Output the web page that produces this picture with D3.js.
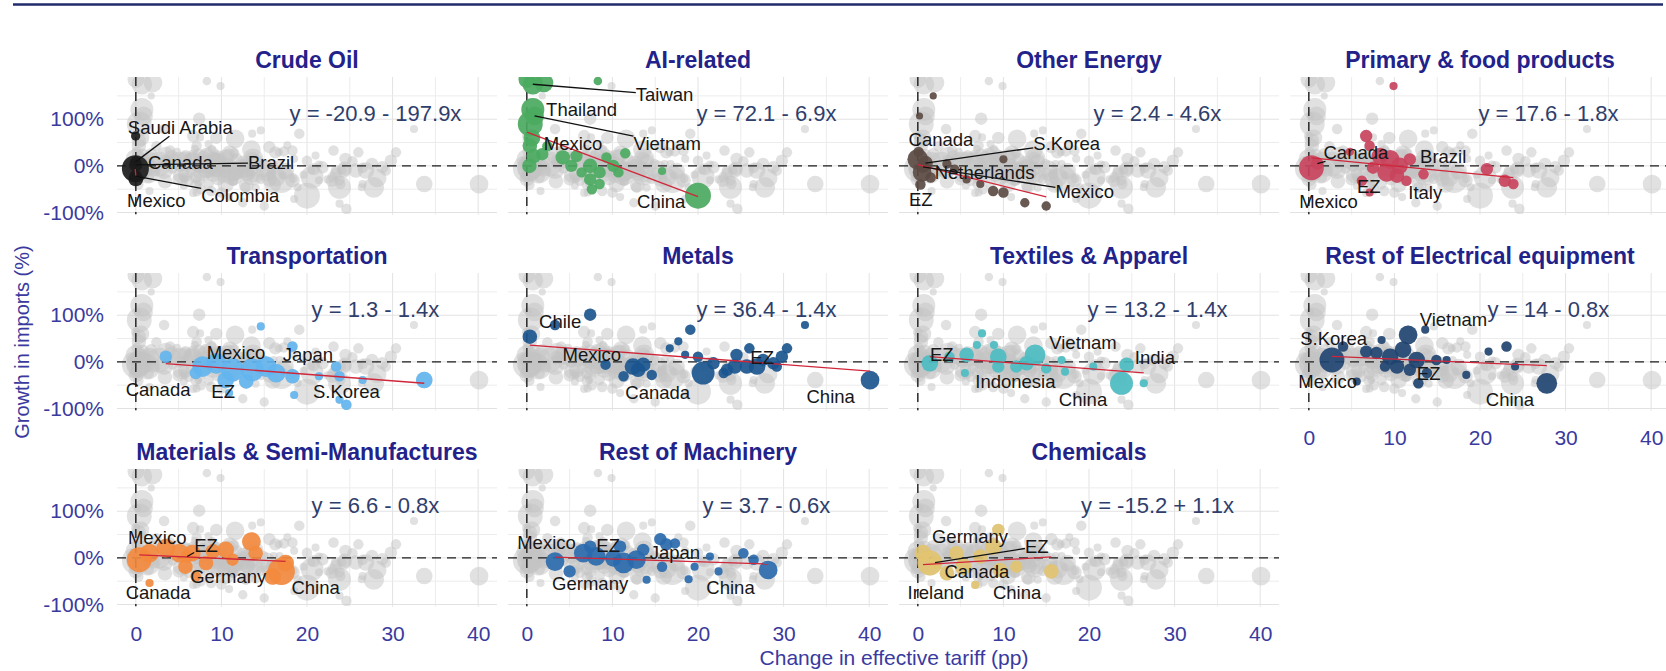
<!DOCTYPE html>
<html>
<head>
<meta charset="utf-8">
<script src="https://cdn.jsdelivr.net/npm/d3@7"></script>
<style>
  html, body { margin: 0; padding: 0; background: #ffffff; }
  svg text { font-family: "Liberation Sans", Arial, sans-serif; }
</style>
</head>
<body>
<svg id="chart" width="1666" height="671"></svg>
<script>
// Facets, in reading order
const sectors = ["Crude Oil", "AI-related", "Other Energy", "Primary & food products",
  "Transportation", "Metals", "Textiles & Apparel", "Rest of Electrical equipment",
  "Materials & Semi-Manufactures", "Rest of Machinery", "Chemicals"];
const sectorColors = ["#1b1b1b", "#4aab5f", "#5c4a44", "#c9435c", "#62b5f0", "#1b5590",
  "#4abcc3", "#1e426f", "#f48a3c", "#2a6aad", "#e2c470"];

// Fitted lines: y = intercept + slope * x
const intercepts = [-20.9, 72.1, 2.4, 17.6, 1.3, 36.4, 13.2, 14, 6.6, 3.7, -15.2];
const slopes = [-197.9, -6.9, -4.6, -1.8, -1.4, -1.4, -1.4, -0.8, -0.8, -0.6, 1.1];

const xTicks = [0, 10, 20, 30, 40];
const yTicks = [-100, 0, 100];

// Points: [change in effective tariff (pp), growth in imports (%), import weight]
const crudeOil = [
  [-0.02, 64, 12], [-0.05, -6, 100], [0.0, -28, 30], [-0.01, 2, 24],
  [-0.03, -22, 20], [-0.07, 8, 14], [0.0, 12, 10]
];
const aiRelated = [
  [0.7, 175, 59], [2.0, 178, 48], [0.0, 185, 38], [8.3, 182, 10], [0.7, 121, 72],
  [0.9, 107, 48], [0.4, 90, 85], [0.6, 60, 38], [0.35, 43, 29], [0.8, 21, 29],
  [0.3, 0, 29], [1.8, 25, 21], [2.4, 42, 15], [4.2, 18, 29], [5.2, 0, 21],
  [5.8, 21, 21], [6.4, -14, 15], [7.4, 0, 29], [7.4, -29, 21], [7.6, -50, 15],
  [8.5, -14, 21], [8.5, -39, 15], [9.3, 18, 15], [10.1, 0, 21], [10.7, -14, 15],
  [11.5, 27, 15], [15.8, -11, 9], [20.0, -64, 92]
];
const otherEnergy = [
  [1.8, 150, 7], [0.2, 107, 7], [0.0, 14, 59], [0.5, -14, 48], [0.9, 6, 29],
  [0.6, -2, 21], [0.3, -40, 15], [0.1, 30, 15], [1.5, -25, 15], [3.4, 4, 12],
  [4.3, -7, 12], [5.7, -29, 9], [7.3, -39, 9], [8.8, -54, 15], [10.0, -57, 15],
  [10.0, 14, 9], [12.5, -79, 12], [15.0, -86, 12]
];
const primaryFood = [
  [0.3, -4, 85], [1.0, 5, 21], [9.9, 171, 9], [6.7, 64, 21], [7.1, 43, 15],
  [4.8, 30, 9], [8.3, 21, 38], [9.5, 14, 48], [10.6, 0, 38], [9.1, -14, 48],
  [10.3, -21, 29], [11.8, 14, 21], [7.5, -4, 21], [6.2, -32, 15], [7.1, -57, 9],
  [11.4, -32, 15], [13.4, -18, 15], [20.8, -7, 21], [22.9, -32, 21], [23.9, -39, 15]
];
const transportation = [
  [3.5, 11, 21], [14.6, 76, 9], [7.0, -24, 21], [7.8, -10, 59], [9.4, -3, 59],
  [11.3, -17, 72], [13.6, -17, 72], [15.2, -10, 59], [16.4, -24, 48], [10.5, -39, 38],
  [12.9, -42, 29], [18.3, -31, 29], [18.3, 33, 15], [10.9, -67, 9], [18.5, -71, 9],
  [21.4, -31, 9], [23.4, -10, 15], [23.8, -31, 15], [23.8, -81, 9], [24.6, -92, 15],
  [26.5, -39, 9], [33.7, -39, 38]
];
const metals = [
  [0.35, 54, 29], [3.3, 79, 15], [7.4, 101, 21], [9.2, -6, 15], [11.3, -31, 15],
  [12.4, -10, 38], [13.0, -17, 29], [13.6, -6, 29], [14.6, -28, 15], [16.7, 29, 9],
  [17.7, 44, 9], [19.1, 69, 15], [18.5, 15, 9], [20.0, 11, 15], [20.6, -24, 72],
  [21.8, -3, 21], [23.0, -24, 15], [23.4, -17, 21], [24.3, -10, 29], [24.5, 15, 21],
  [25.7, -10, 29], [26.0, 29, 15], [26.9, -10, 38], [27.6, 4, 21], [28.8, -3, 21],
  [29.2, -10, 15], [29.8, 11, 21], [30.4, 29, 15], [32.5, 79, 9], [40.1, -39, 48]
];
const textiles = [
  [1.4, -3, 38], [3.7, 11, 15], [5.5, -24, 9], [5.7, 15, 29], [6.9, 36, 9],
  [7.5, 61, 9], [8.9, 36, 9], [9.4, 11, 38], [9.4, -10, 21], [11.5, -10, 21],
  [12.7, -3, 29], [13.7, 15, 59], [15.0, -14, 15], [16.8, 4, 9], [17.2, -21, 9],
  [20.5, -10, 9], [23.8, -46, 72], [24.4, -6, 29], [26.4, -46, 9]
];
const electrical = [
  [2.7, 4, 85], [4.0, 33, 15], [5.6, -42, 9], [6.7, 22, 21], [7.9, 19, 21],
  [8.5, 47, 9], [8.9, -10, 15], [9.5, 11, 38], [10.3, -10, 29], [11.0, 26, 38],
  [11.6, 58, 48], [11.8, -17, 21], [12.6, 4, 38], [12.8, -46, 15], [13.6, 69, 9],
  [13.8, -24, 15], [14.9, 4, 15], [16.1, 4, 9], [18.4, -28, 9], [21.0, 22, 9],
  [23.1, 33, 15], [24.1, -10, 9], [27.8, -46, 59]
];
const materials = [
  [0.4, -4, 85], [1.6, 10, 48], [1.6, -54, 9], [3.5, 21, 48], [5.1, 10, 48],
  [5.8, -19, 29], [6.0, 3, 21], [6.6, 10, 38], [7.0, -40, 15], [8.2, -11, 29],
  [9.0, 14, 29], [10.5, 17, 38], [11.3, -4, 21], [13.5, 35, 48], [14.0, 10, 29],
  [16.0, -40, 38], [17.0, -29, 100], [17.5, -11, 38]
];
const machinery = [
  [3.3, -8, 48], [5.0, -29, 21], [6.6, 10, 48], [7.4, 24, 21], [8.1, 3, 48],
  [10.1, -1, 38], [10.9, 24, 21], [11.3, -11, 59], [12.8, -4, 48], [13.6, 17, 21],
  [14.0, -47, 9], [15.6, 40, 21], [15.8, -19, 15], [16.3, 29, 21], [17.3, 31, 15],
  [18.9, -46, 9], [19.6, -19, 9], [21.4, 3, 9], [22.4, -29, 9], [25.3, 10, 15],
  [26.5, -4, 15], [28.2, -26, 48]
];
const chemicals = [
  [0.6, 10, 38], [1.4, -11, 85], [2.0, -10, 21], [3.4, -33, 29], [4.5, 10, 29],
  [5.3, -19, 38], [6.7, -58, 9], [7.3, 3, 29], [8.8, 24, 38], [9.4, 60, 21],
  [9.6, -26, 29], [11.5, -19, 21], [15.6, -29, 29]
];

// Country labels: [name, label x, label y, (point x, point y) for a leader line]
const crudeLabels = [["Saudi Arabia", 5.2, 81.5, -0.07, 8], ["Canada", 5.2, 6.4],
  ["Brazil", 15.8, 6.4, -0.01, 2], ["Colombia", 12.2, -64, -0.03, -22], ["Mexico", 2.4, -75]];
const aiLabels = [["Taiwan", 16.1, 152, 0.7, 175], ["Thailand", 6.4, 120], ["Mexico", 5.4, 49],
  ["Vietnam", 16.4, 49, 0.9, 107], ["China", 15.7, -77]];
const otherEnergyLabels = [["Canada", 2.7, 56], ["S.Korea", 17.4, 49, 0.9, 6],
  ["Netherlands", 7.8, -15], ["Mexico", 19.5, -56, 0.6, -2], ["EZ", 0.35, -73]];
const primaryLabels = [["Canada", 5.5, 28, 1.0, 5], ["Brazil", 15.7, 19], ["EZ", 7, -45],
  ["Italy", 13.6, -58], ["Mexico", 2.3, -77]];
const transportLabels = [["Mexico", 11.7, 19], ["Japan", 20.1, 15], ["Canada", 2.6, -60],
  ["EZ", 10.2, -64], ["S.Korea", 24.6, -64]];
const metalsLabels = [["Chile", 3.9, 86], ["Mexico", 7.6, 15], ["Canada", 15.3, -66],
  ["EZ", 27.5, 9], ["China", 35.5, -75]];
const textilesLabels = [["EZ", 2.8, 15], ["Vietnam", 19.3, 41], ["India", 27.7, 9],
  ["Indonesia", 11.4, -43], ["China", 19.3, -81]];
const electricalLabels = [["Vietnam", 16.9, 90], ["S.Korea", 2.9, 51], ["Mexico", 2.2, -43],
  ["EZ", 14, -24], ["China", 23.5, -81]];
const materialsLabels = [["Mexico", 2.5, 43], ["EZ", 8.2, 26, 6.0, 3], ["Germany", 10.8, -41],
  ["Canada", 2.6, -75], ["China", 21, -64]];
const machineryLabels = [["Mexico", 2.3, 32], ["EZ", 9.5, 26], ["Japan", 17.3, 11],
  ["Germany", 7.4, -54], ["China", 23.8, -64]];
const chemicalsLabels = [["Germany", 6.1, 45], ["EZ", 13.9, 24, 2.0, -10], ["Canada", 6.9, -30],
  ["Ireland", 2.1, -75], ["China", 11.6, -75]];

const sectorPoints = [crudeOil, aiRelated, otherEnergy, primaryFood, transportation, metals,
  textiles, electrical, materials, machinery, chemicals];
const sectorLabels = [crudeLabels, aiLabels, otherEnergyLabels, primaryLabels, transportLabels,
  metalsLabels, textilesLabels, electricalLabels, materialsLabels, machineryLabels, chemicalsLabels];

// ---------- layout ----------
const svg = d3.select("#chart");
const panelW = 380, panelH = 137.6;
const colStep = 391, rowStep = 196;
const left0 = 117, top0 = 77;
const nCols = 4;

const x = d3.scaleLinear().domain([-2.2, 42.2]).range([0, panelW]);
const y = d3.scaleLinear().domain([-104.5, 190.5]).range([panelH, 0]);
const r = d3.scaleSqrt().domain([0, 100]).range([0, 13.5]);

const titleColor = "#22228a";
const axisColor = "#3a3a9e";
const allPoints = sectorPoints.flat();

// rule across the top
svg.append("line")
  .attr("x1", 13).attr("x2", 1663).attr("y1", 4.5).attr("y2", 4.5)
  .attr("stroke", "#1f2b6c").attr("stroke-width", 2.5);

const defs = svg.append("defs");
defs.append("clipPath").attr("id", "panel-clip")
  .append("rect").attr("x", 0).attr("y", 0).attr("width", panelW).attr("height", panelH);

sectors.forEach((name, i) => {
  const col = i % nCols, row = Math.floor(i / nCols);
  const g = svg.append("g")
    .attr("transform", `translate(${left0 + col * colStep},${top0 + row * rowStep})`);

  // grid
  const grid = g.append("g");
  grid.selectAll("line.v").data(d3.range(0, 41, 5)).join("line")
    .attr("x1", d => x(d)).attr("x2", d => x(d)).attr("y1", 0).attr("y2", panelH)
    .attr("stroke", d => d % 10 === 0 ? "#e2e2e2" : "#ececec").attr("stroke-width", 1);
  grid.selectAll("line.h").data(d3.range(-100, 151, 50)).join("line")
    .attr("x1", 0).attr("x2", panelW).attr("y1", d => y(d)).attr("y2", d => y(d))
    .attr("stroke", d => d % 100 === 0 ? "#e2e2e2" : "#ececec").attr("stroke-width", 1);

  const plot = g.append("g").attr("clip-path", "url(#panel-clip)");

  // every sector's points, in grey
  plot.append("g").selectAll("circle").data(allPoints).join("circle")
    .attr("cx", d => x(d[0])).attr("cy", d => y(d[1])).attr("r", d => r(d[2]))
    .attr("fill", "#c4c4c4").attr("fill-opacity", 0.5);

  // zero reference lines
  plot.append("line")
    .attr("x1", x(0)).attr("x2", x(0)).attr("y1", 0).attr("y2", panelH)
    .attr("stroke", "#1c1c1c").attr("stroke-width", 1.4).attr("stroke-dasharray", "9,6");
  plot.append("line")
    .attr("x1", 0).attr("x2", panelW).attr("y1", y(0)).attr("y2", y(0))
    .attr("stroke", "#1c1c1c").attr("stroke-width", 1.4).attr("stroke-dasharray", "9,6");

  // this sector's points
  const pts = sectorPoints[i];
  plot.append("g").selectAll("circle").data(pts).join("circle")
    .attr("cx", d => x(d[0])).attr("cy", d => y(d[1])).attr("r", d => r(d[2]))
    .attr("fill", sectorColors[i]).attr("fill-opacity", 0.9);

  // fitted line over the sector's tariff range
  const [x0, x1] = d3.extent(pts, d => d[0]);
  const fit = xv => intercepts[i] + slopes[i] * xv;
  plot.append("path")
    .datum([x0, x1])
    .attr("d", d3.line().x(d => x(d)).y(d => y(fit(d))))
    .attr("fill", "none").attr("stroke", "#d0263a").attr("stroke-width", 1.3);

  // equation
  const eq = `y = ${intercepts[i]} ${slopes[i] < 0 ? "-" : "+"} ${Math.abs(slopes[i])}x`;
  g.append("text")
    .attr("x", x(28)).attr("y", y(113))
    .attr("text-anchor", "middle").attr("dominant-baseline", "central")
    .attr("font-size", 22).attr("fill", "#2f3e6b")
    .text(eq);

  // country labels with leader lines
  const segs = g.append("g");
  const labs = g.append("g");
  sectorLabels[i].forEach(([txt, lx, ly, px, py]) => {
    const t = labs.append("text")
      .attr("x", x(lx)).attr("y", y(ly))
      .attr("text-anchor", "middle").attr("dominant-baseline", "central")
      .attr("font-size", 18.5).attr("fill", "#161616")
      .text(txt);
    if (px !== undefined) {
      const bb = t.node().getBBox();
      const cx = bb.x + bb.width / 2, cy = bb.y + bb.height / 2;
      const tx = x(px), ty = y(py);
      const dx = tx - cx, dy = ty - cy;
      const s = Math.min(
        dx === 0 ? Infinity : (bb.width / 2) / Math.abs(dx),
        dy === 0 ? Infinity : (bb.height / 2 - 2) / Math.abs(dy));
      if (s < 1) {
        segs.append("line")
          .attr("x1", cx + dx * s).attr("y1", cy + dy * s)
          .attr("x2", tx).attr("y2", ty)
          .attr("stroke", "#111").attr("stroke-width", 1.3);
      }
    }
  });

  // facet title
  g.append("text")
    .attr("x", panelW / 2).attr("y", -9)
    .attr("text-anchor", "middle")
    .attr("font-size", 23).attr("font-weight", "bold").attr("fill", titleColor)
    .text(name);

  // y axis on the first column
  if (col === 0) {
    const ya = g.append("g")
      .call(d3.axisLeft(y).tickValues(yTicks).tickSize(0).tickPadding(13).tickFormat(d => d + "%"));
    ya.select(".domain").remove();
    ya.selectAll("text").attr("font-size", 21).attr("fill", axisColor)
      .attr("font-family", "Liberation Sans, Arial, sans-serif");
  }
  // x axis under the lowest panel of each column
  if (i + nCols >= sectors.length) {
    const xa = g.append("g").attr("transform", `translate(0,${panelH})`)
      .call(d3.axisBottom(x).tickValues(xTicks).tickSize(0).tickPadding(19));
    xa.select(".domain").remove();
    xa.selectAll("text").attr("font-size", 21).attr("fill", axisColor)
      .attr("font-family", "Liberation Sans, Arial, sans-serif");
  }
});

// axis titles
svg.append("text")
  .attr("transform", "translate(29,342) rotate(-90)")
  .attr("text-anchor", "middle")
  .attr("font-size", 20).attr("fill", axisColor)
  .text("Growth in imports (%)");
svg.append("text")
  .attr("x", 894).attr("y", 665)
  .attr("text-anchor", "middle")
  .attr("font-size", 21).attr("fill", axisColor)
  .text("Change in effective tariff (pp)");
</script>
</body>
</html>
